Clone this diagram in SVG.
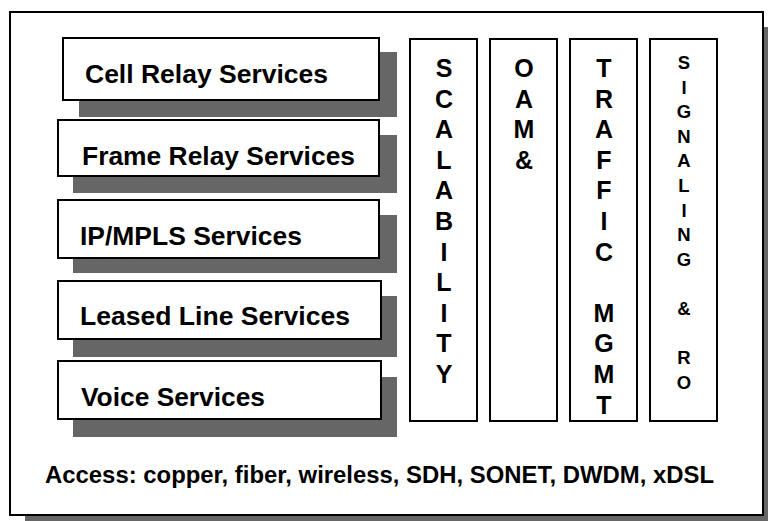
<svg xmlns="http://www.w3.org/2000/svg" width="768" height="521" viewBox="0 0 768 521">
<style>
.shadow{fill:#666666;stroke:none}
.box{fill:#ffffff;stroke:#000000;stroke-width:2}
.t{font-family:"Liberation Sans",Arial,Helvetica,sans-serif;font-weight:bold;fill:#000000}
.svc{font-size:25.5px}
.col{font-size:25px;text-anchor:middle}
.col2{font-size:18.5px;text-anchor:middle}
.acc{font-size:23px}
</style>
<rect width="768" height="521" fill="#ffffff"/>
<g id="frame">
<rect class="shadow" x="25" y="27" width="753" height="503"/>
<rect class="box" x="10" y="12" width="753" height="503"/>
</g>
<g id="cell-relay">
<rect class="shadow" x="79" y="52" width="318" height="65"/>
<rect class="box" x="63" y="38" width="316" height="62"/>
<text class="t svc" x="85" y="83" textLength="243" lengthAdjust="spacingAndGlyphs">Cell Relay Services</text>
</g>
<g id="frame-relay">
<rect class="shadow" x="73" y="135" width="324" height="58"/>
<rect class="box" x="58" y="120" width="321" height="56"/>
<text class="t svc" x="82" y="165" textLength="273" lengthAdjust="spacingAndGlyphs">Frame Relay Services</text>
</g>
<g id="ip-mpls">
<rect class="shadow" x="73" y="215" width="324" height="58"/>
<rect class="box" x="58" y="200" width="321" height="58"/>
<text class="t svc" x="80" y="245" textLength="222" lengthAdjust="spacingAndGlyphs">IP/MPLS Services</text>
</g>
<g id="leased-line">
<rect class="shadow" x="73" y="296" width="324" height="61"/>
<rect class="box" x="58" y="281" width="323" height="58"/>
<text class="t svc" x="80" y="325" textLength="270" lengthAdjust="spacingAndGlyphs">Leased Line Services</text>
</g>
<g id="voice">
<rect class="shadow" x="73" y="377" width="324" height="60"/>
<rect class="box" x="58" y="361" width="323" height="58"/>
<text class="t svc" x="81" y="406" textLength="184" lengthAdjust="spacingAndGlyphs">Voice Services</text>
</g>
<g id="scalability">
<rect class="box" x="410" y="39" width="67" height="382"/>
<text class="t col" x="444" y="77">S</text>
<text class="t col" x="444" y="107.6">C</text>
<text class="t col" x="444" y="138.2">A</text>
<text class="t col" x="444" y="168.8">L</text>
<text class="t col" x="444" y="199.4">A</text>
<text class="t col" x="444" y="230">B</text>
<text class="t col" x="444" y="260.6">I</text>
<text class="t col" x="444" y="291.2">L</text>
<text class="t col" x="444" y="321.8">I</text>
<text class="t col" x="444" y="352.4">T</text>
<text class="t col" x="444" y="383">Y</text>
</g>
<g id="oam">
<rect class="box" x="490" y="39" width="67" height="382"/>
<text class="t col" x="524" y="77">O</text>
<text class="t col" x="524" y="107.6">A</text>
<text class="t col" x="524" y="138.2">M</text>
<text class="t col" x="524" y="168.8">&amp;</text>
</g>
<g id="traffic-mgmt">
<rect class="box" x="570" y="39" width="67" height="382"/>
<text class="t col" x="604" y="77">T</text>
<text class="t col" x="604" y="107.6">R</text>
<text class="t col" x="604" y="138.2">A</text>
<text class="t col" x="604" y="168.8">F</text>
<text class="t col" x="604" y="199.4">F</text>
<text class="t col" x="604" y="230">I</text>
<text class="t col" x="604" y="260.6">C</text>
<text class="t col" x="604" y="321.8">M</text>
<text class="t col" x="604" y="352.4">G</text>
<text class="t col" x="604" y="383">M</text>
<text class="t col" x="604" y="413.6">T</text>
</g>
<g id="signaling">
<rect class="box" x="650" y="39" width="67" height="382"/>
<text class="t col2" x="684" y="69">S</text>
<text class="t col2" x="684" y="93.6">I</text>
<text class="t col2" x="684" y="118.2">G</text>
<text class="t col2" x="684" y="142.8">N</text>
<text class="t col2" x="684" y="167.4">A</text>
<text class="t col2" x="684" y="192">L</text>
<text class="t col2" x="684" y="216.6">I</text>
<text class="t col2" x="684" y="241.2">N</text>
<text class="t col2" x="684" y="265.8">G</text>
<text class="t col2" x="684" y="315">&amp;</text>
<text class="t col2" x="684" y="364.2">R</text>
<text class="t col2" x="684" y="388.8">O</text>
</g>
<g id="access">
<text class="t acc" x="45" y="483" textLength="669" lengthAdjust="spacingAndGlyphs">Access: copper, fiber, wireless, SDH, SONET, DWDM, xDSL</text>
</g>
</svg>
